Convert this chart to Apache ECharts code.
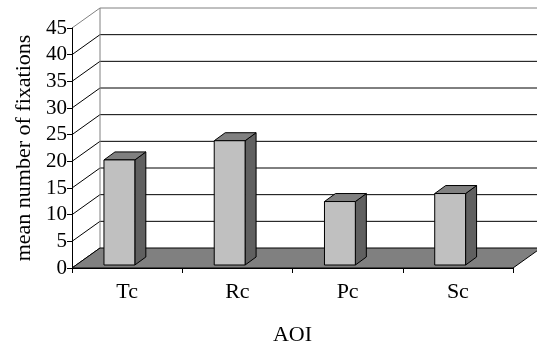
<!DOCTYPE html>
<html>
<head>
<meta charset="utf-8">
<script src="https://cdn.jsdelivr.net/npm/echarts@6/dist/echarts.min.js"></script>
<style>
  html, body { margin: 0; padding: 0; background: #fff; }
  #chart { width: 537px; height: 346px; }
</style>
</head>
<body>
<div id="chart"></div>
<script>
// data
var categories = ['Tc', 'Rc', 'Pc', 'Sc'];
var fixations = [19.7, 23.3, 11.9, 13.4];
var yTicks = [0, 5, 10, 15, 20, 25, 30, 35, 40, 45];

// fake 3d depth (pixels) of the back wall and of the bars
var WALL_DX = 28, WALL_DY = 20;
var BAR_DX = 11, BAR_DY = 8;
var FONT = 'Liberation Serif';

var chart = echarts.init(document.getElementById('chart'));

// back wall: diagonal from each front tick plus horizontal grid line
function renderWall(params, api) {
  var v = api.value(1);
  var band = api.size([1, 0])[0];
  var p = api.coord([0, v]);
  var left = p[0] - band / 2;
  var right = api.coord([categories.length - 1, v])[0] + band / 2;
  var y = p[1];
  var isTop = v === yTicks[yTicks.length - 1];
  var col = isTop ? '#808080' : '#000';
  var children = [{
    type: 'line',
    shape: { x1: left, y1: y, x2: left + WALL_DX, y2: y - WALL_DY },
    style: { stroke: col, lineWidth: 1 }
  }];
  if (v > 0) {
    children.push({
      type: 'line',
      shape: { x1: left + WALL_DX, y1: y - WALL_DY, x2: right + WALL_DX, y2: y - WALL_DY },
      style: { stroke: col, lineWidth: 1 }
    });
  }
  if (isTop) {
    var y0 = api.coord([0, 0])[1];
    children.push({
      type: 'line',
      shape: { x1: left + WALL_DX, y1: y - WALL_DY, x2: left + WALL_DX, y2: y0 - WALL_DY },
      style: { stroke: '#808080', lineWidth: 1 }
    });
  }
  return { type: 'group', children: children };
}

function renderFloor(params, api) {
  var band = api.size([1, 0])[0];
  var p0 = api.coord([0, 0]);
  var left = p0[0] - band / 2;
  var right = api.coord([categories.length - 1, 0])[0] + band / 2;
  var y = p0[1];
  return {
    type: 'polygon',
    shape: { points: [[left, y], [right, y], [right + WALL_DX, y - WALL_DY], [left + WALL_DX, y - WALL_DY]] },
    style: { fill: '#808080', stroke: '#000', lineWidth: 1 }
  };
}

function renderBar(params, api) {
  var band = api.size([1, 0])[0];
  var top = api.coord([api.value(0), api.value(1)]);
  var base = api.coord([api.value(0), 0]);
  // bars stand a little behind the front edge of the floor
  var x1 = top[0] - band * 0.21;
  var x2 = x1 + band * 0.28;
  var yT = top[1] - 3;
  var yB = base[1] - 3;
  var line = { stroke: '#000', lineWidth: 1 };
  return {
    type: 'group',
    children: [
      { type: 'polygon', shape: { points: [[x2, yT], [x2 + BAR_DX, yT - BAR_DY], [x2 + BAR_DX, yB - BAR_DY], [x2, yB]] },
        style: Object.assign({ fill: '#606060' }, line) },
      { type: 'polygon', shape: { points: [[x1, yT], [x1 + BAR_DX, yT - BAR_DY], [x2 + BAR_DX, yT - BAR_DY], [x2, yT]] },
        style: Object.assign({ fill: '#808080' }, line) },
      { type: 'rect', shape: { x: x1, y: yT, width: x2 - x1, height: yB - yT },
        style: Object.assign({ fill: '#c0c0c0' }, line) }
    ]
  };
}

var option = {
  animation: false,
  grid: { left: 72, right: 24, top: 28, bottom: 78, outerBoundsMode: 'none', containLabel: false },
  xAxis: {
    type: 'category',
    data: categories,
    z: 5,
    name: 'AOI',
    nameLocation: 'middle',
    nameGap: 56,
    nameTextStyle: { fontFamily: FONT, fontSize: 22, color: '#000' },
    axisLine: { lineStyle: { color: '#000', width: 1 } },
    axisTick: { show: true, length: 5, lineStyle: { color: '#000' } },
    axisLabel: { fontFamily: FONT, fontSize: 22, color: '#000', margin: 13 },
    splitLine: { show: false }
  },
  yAxis: {
    type: 'value',
    min: 0,
    max: 45,
    interval: 5,
    z: 5,
    name: 'mean number of fixations',
    nameLocation: 'middle',
    nameGap: 36,
    nameTextStyle: { fontFamily: FONT, fontSize: 22, color: '#000' },
    axisLine: { show: true, lineStyle: { color: '#000', width: 1 } },
    axisTick: { show: true, length: 5, lineStyle: { color: '#000' } },
    axisLabel: { fontFamily: FONT, fontSize: 21, color: '#000', margin: 5 },
    splitLine: { show: false }
  },
  series: [
    {
      type: 'custom',
      z: 1,
      silent: true,
      renderItem: renderWall,
      encode: { x: 0, y: 1 },
      data: yTicks.map(function (v) { return [0, v]; })
    },
    {
      type: 'custom',
      z: 2,
      silent: true,
      renderItem: renderFloor,
      encode: { x: 0, y: 1 },
      data: [[0, 0]]
    },
    {
      type: 'custom',
      z: 3,
      renderItem: renderBar,
      encode: { x: 0, y: 1 },
      data: fixations.map(function (v, i) { return [i, v]; })
    }
  ]
};

chart.setOption(option);
</script>
</body>
</html>
